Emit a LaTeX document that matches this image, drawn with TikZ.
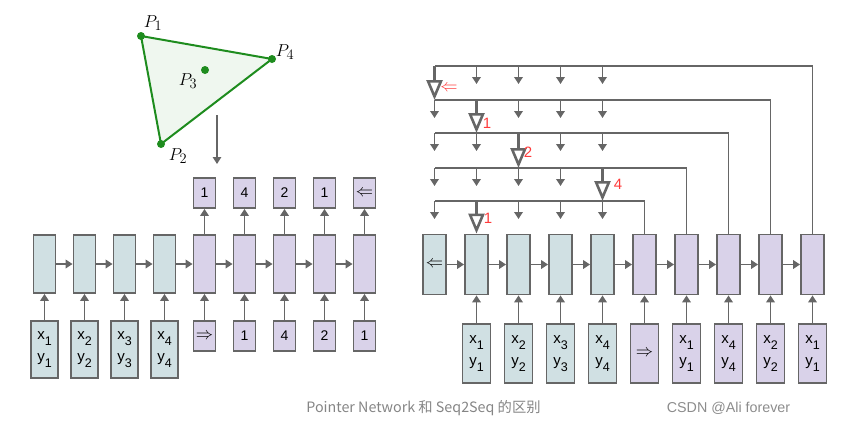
\documentclass[tikz,border=0pt]{standalone}
\usepackage{fontspec}
\setmainfont{Liberation Sans}
\newfontfamily\cjk{Noto Sans CJK SC}
\usetikzlibrary{arrows.meta,positioning}
\definecolor{encfill}{HTML}{D0E0E3}
\definecolor{decfill}{HTML}{D9D2E9}
\definecolor{linegray}{HTML}{666666}
\definecolor{trigreen}{HTML}{1E8C1E}
\definecolor{pickred}{HTML}{FF3B3B}
\newcommand\lo[1]{\raisebox{-0.8ex}{\fontsize{12.5}{14}\selectfont #1}}
\newcommand\xy[1]{x\lo{#1}\\[5pt]y\lo{#1}}
\newcommand\dbl[1]{{\fontsize{19}{20}\selectfont$#1$}}

\begin{document}
\begin{tikzpicture}[x=1pt,y=-1pt,
    cell/.style={draw=linegray,line width=1.8pt,inner sep=0pt,
                 font=\fontsize{14}{16}\selectfont,align=center},
    hid/.style={cell,minimum width=22pt,minimum height=58pt},
    tok/.style={cell,minimum width=22pt,minimum height=30pt},
    pt/.style={cell,minimum width=27pt,minimum height=57pt,
               font=\fontsize{15}{17}\selectfont},
    flow/.style={draw=linegray,line width=1.8pt,-{Triangle[length=7pt,width=8.5pt]}},
    feed/.style={draw=linegray,line width=1.8pt},
    pick/.style={draw=linegray,line width=3.2pt,
                 -{Triangle[open,length=20pt,width=16pt,line width=2.6pt]}},
    picklabel/.style={text=pickred,font=\fontsize{15}{17}\selectfont},
    plabel/.style={font=\fontsize{19}{21}\selectfont}]

  \useasboundingbox (0,0) rectangle (852,434);

  % points
  \coordinate (P1) at (141,36);
  \coordinate (P2) at (161,144);
  \coordinate (P3) at (205,70);
  \coordinate (P4) at (272,59);
  \draw[trigreen,fill=trigreen!7,line width=2pt,line join=round]
    (P1) -- (P4) -- (P2) -- cycle;
  \foreach \p in {P1,P2,P3,P4} \fill[trigreen] (\p) circle (4pt);
  \node[plabel] (l1) at (153,23)  {$P_1$};
  \node[plabel] (l2) at (178,156) {$P_2$};
  \node[plabel] (l3) at (188,81)  {$P_3$};
  \node[plabel] (l4) at (285,52)  {$P_4$};
  \coordinate (go) at (217,115);
  \coordinate (gone) at (217,164);
  \draw[flow,line width=1.4pt] (go) -- (gone);

  % seq2seq
  \foreach \i in {1,...,4} {
    \node[hid,fill=encfill] (e\i) at ({44.5+40*(\i-1)},264) {};
  }
  \foreach \i/\t in {1/1,2/2,3/3,4/4}
    \node[pt,fill=encfill] (i\i) at ({44.5+40*(\i-1)},349.5) {\xy{\t}};
  \foreach \i/\t/\o in {1/{\dbl\Rightarrow}/1,2/1/4,3/4/2,4/2/1,5/1/{\dbl\Leftarrow}} {
    \node[hid,fill=decfill] (d\i) at ({204.5+40*(\i-1)},264) {};
    \node[tok,fill=decfill] (j\i) at ({204.5+40*(\i-1)},336) {\t};
    \node[tok,fill=decfill] (o\i) at ({204.5+40*(\i-1)},193) {\o};
    \draw[flow] (j\i) -- (d\i);
    \draw[flow] (d\i) -- (o\i);
  }
  \foreach \i in {1,...,4} \draw[flow] (i\i) -- (e\i);
  \foreach \i/\n in {1/2,2/3,3/4} {
    \draw[flow] (e\i) -- (e\n);
    \draw[flow] (d\i) -- (d\n);
  }
  \draw[flow] (d4) -- (d5);
  \draw[flow] (e4) -- (d1);

  % pointer network
  \node[hid,fill=encfill,minimum width=23pt,minimum height=60pt]
    (r1) at (434.5,264.5) {\dbl\Leftarrow};
  \foreach \i in {2,...,5}
    \node[hid,fill=encfill,minimum width=23pt,minimum height=60pt]
      (r\i) at ({434.5+42*(\i-1)},264.5) {};
  \foreach \i in {6,...,10}
    \node[hid,fill=decfill,minimum width=23pt,minimum height=60pt]
      (r\i) at ({434.5+42*(\i-1)},264.5) {};
  \foreach \i/\t in {2/1,3/2,4/3,5/4}
    \node[pt,fill=encfill,minimum width=28pt,minimum height=59pt]
      (s\i) at ({434.5+42*(\i-1)},353.5) {\xy{\t}};
  \node[pt,fill=decfill,minimum width=28pt,minimum height=59pt]
    (s6) at (644.5,353.5) {\dbl\Rightarrow};
  \foreach \i/\t in {7/1,8/4,9/2,10/1}
    \node[pt,fill=decfill,minimum width=28pt,minimum height=59pt]
      (s\i) at ({434.5+42*(\i-1)},353.5) {\xy{\t}};
  \foreach \i in {2,...,10} \draw[flow] (s\i) -- (r\i);
  \foreach \i/\n in {1/2,2/3,3/4,4/5,5/6,6/7,7/8,8/9,9/10}
    \draw[flow] (r\i) -- (r\n);

  \foreach \m/\y/\k/\p in {1/66/10/1,2/100/9/2,3/133/8/3,4/168/7/5,5/201/6/2} {
    \coordinate (h\m) at (434.5,\y);
    \draw[feed] (r\k.north) |- (h\m);
    \foreach \c in {1,...,5} {
      \ifnum\c=\p\else \draw[flow] (h\m -| r\c) -- ++(0,18); \fi
    }
  }
  \draw[pick] (h1 -| r1) -- (h2 -| r1);
  \draw[pick] (h2 -| r2) -- (h3 -| r2);
  \draw[pick] (h3 -| r3) -- (h4 -| r3);
  \draw[pick] (h4 -| r5) -- (h5 -| r5);
  \draw[pick] (h5 -| r2) -- (r2.north);
  \node[picklabel] (c1) at (449,88)  {\dbl\Leftarrow};
  \node[picklabel] (c2) at (487,123) {1};
  \node[picklabel] (c3) at (528,152) {2};
  \node[picklabel] (c4) at (618,184) {4};
  \node[picklabel] (c5) at (488,218) {1};

  \node[text=black!48,font=\cjk\fontsize{14.3}{16}\selectfont] (cap)
    at (423.5,408) {Pointer Network 和 Seq2Seq 的区别};
  \node[text=black!45,font=\fontsize{14.3}{16}\selectfont] (mark)
    at (728.5,408) {CSDN @Ali forever};
\end{tikzpicture}
\end{document}
